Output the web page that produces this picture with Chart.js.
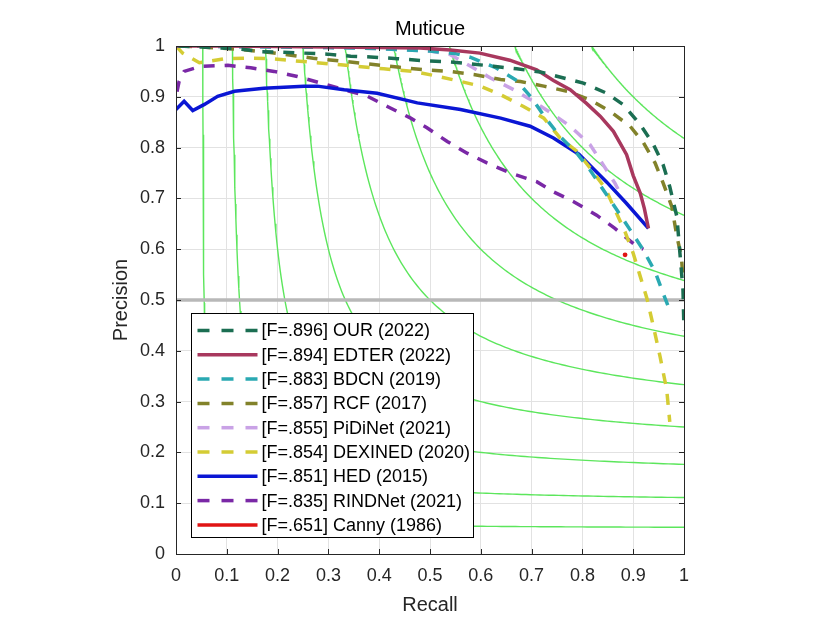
<!DOCTYPE html>
<html>
<head>
<meta charset="utf-8">
<title>Muticue</title>
<script src="https://cdn.jsdelivr.net/npm/chart.js@4.4.1/dist/chart.umd.min.js"></script>
<style>
  html, body { margin: 0; padding: 0; background: #fff; }
  canvas { display: block; }
</style>
</head>
<body>
<canvas id="chart" width="830" height="623"></canvas>
<script>
const chartTitle = "Muticue";
const tickValues = [0, 0.1, 0.2, 0.3, 0.4, 0.5, 0.6, 0.7, 0.8, 0.9, 1];
const isoFLevels = [0.1, 0.2, 0.3, 0.4, 0.5, 0.6, 0.7, 0.8, 0.9];
const referencePrecision = 0.5;

const ourRecall = [0.005, 0.05, 0.115, 0.167, 0.206, 0.252, 0.298, 0.344, 0.39, 0.436, 0.488, 0.534, 0.58, 0.625, 0.671, 0.717, 0.763, 0.802, 0.848, 0.881, 0.914, 0.94, 0.959, 0.972, 0.986, 0.993, 0.998, 1.0];
const ourPrecision = [1.0, 0.998, 0.995, 0.989, 0.988, 0.986, 0.984, 0.98, 0.978, 0.975, 0.971, 0.969, 0.965, 0.96, 0.955, 0.949, 0.937, 0.927, 0.907, 0.884, 0.845, 0.806, 0.766, 0.723, 0.664, 0.58, 0.52, 0.44];

const edterRecall = [0.0, 0.1, 0.2, 0.3, 0.4, 0.48, 0.54, 0.598, 0.657, 0.71, 0.743, 0.776, 0.808, 0.835, 0.861, 0.887, 0.9, 0.914, 0.922, 0.93];
const edterPrecision = [1.0, 1.0, 0.999, 0.998, 0.997, 0.996, 0.992, 0.986, 0.972, 0.953, 0.932, 0.914, 0.887, 0.862, 0.832, 0.786, 0.745, 0.71, 0.68, 0.641];

const bdcnRecall = [0.0, 0.1, 0.2, 0.3, 0.4, 0.5, 0.55, 0.579, 0.628, 0.671, 0.7, 0.726, 0.756, 0.789, 0.815, 0.841, 0.868, 0.894, 0.92, 0.943, 0.959, 0.968];
const bdcnPrecision = [1.0, 0.999, 0.998, 0.997, 0.995, 0.99, 0.985, 0.978, 0.958, 0.932, 0.898, 0.86, 0.822, 0.789, 0.756, 0.717, 0.677, 0.638, 0.598, 0.556, 0.513, 0.49];

const rcfRecall = [0.01, 0.05, 0.12, 0.185, 0.27, 0.356, 0.44, 0.494, 0.54, 0.586, 0.639, 0.678, 0.724, 0.77, 0.815, 0.855, 0.894, 0.92, 0.943, 0.959, 0.976, 0.986, 0.995, 0.998];
const rcfPrecision = [1.0, 0.998, 0.994, 0.987, 0.976, 0.967, 0.958, 0.953, 0.95, 0.944, 0.934, 0.93, 0.921, 0.911, 0.894, 0.871, 0.842, 0.81, 0.77, 0.73, 0.684, 0.625, 0.585, 0.54];

const pidiRecall = [0.0, 0.1, 0.2, 0.3, 0.4, 0.5, 0.54, 0.58, 0.619, 0.665, 0.7, 0.743, 0.776, 0.815, 0.841, 0.864, 0.872];
const pidiPrecision = [1.0, 0.999, 0.998, 0.997, 0.995, 0.99, 0.983, 0.96, 0.937, 0.914, 0.893, 0.865, 0.842, 0.806, 0.766, 0.73, 0.715];

const dexiRecall = [0.0, 0.013, 0.046, 0.095, 0.141, 0.187, 0.232, 0.324, 0.409, 0.468, 0.507, 0.553, 0.599, 0.639, 0.684, 0.724, 0.756, 0.789, 0.815, 0.845, 0.884, 0.9, 0.914, 0.927, 0.94, 0.953, 0.966, 0.972];
const dexiPrecision = [1.0, 0.986, 0.967, 0.975, 0.976, 0.975, 0.971, 0.963, 0.955, 0.95, 0.942, 0.932, 0.921, 0.904, 0.881, 0.858, 0.819, 0.793, 0.76, 0.72, 0.634, 0.592, 0.546, 0.503, 0.447, 0.388, 0.323, 0.26];

const hedRecall = [0.0, 0.016, 0.033, 0.056, 0.082, 0.115, 0.173, 0.252, 0.278, 0.331, 0.396, 0.475, 0.56, 0.639, 0.697, 0.743, 0.793, 0.822, 0.848, 0.887, 0.93];
const hedPrecision = [0.875, 0.891, 0.873, 0.885, 0.901, 0.911, 0.917, 0.921, 0.921, 0.914, 0.907, 0.888, 0.875, 0.858, 0.842, 0.819, 0.787, 0.758, 0.732, 0.69, 0.641];

const rindRecall = [0.002, 0.006, 0.016, 0.049, 0.102, 0.147, 0.193, 0.239, 0.285, 0.331, 0.377, 0.416, 0.462, 0.494, 0.534, 0.573, 0.612, 0.658, 0.71, 0.743, 0.782, 0.828, 0.864, 0.904, 0.92];
const rindPrecision = [0.91, 0.93, 0.95, 0.96, 0.962, 0.957, 0.95, 0.94, 0.927, 0.914, 0.901, 0.881, 0.858, 0.839, 0.812, 0.789, 0.77, 0.75, 0.733, 0.713, 0.694, 0.667, 0.641, 0.608, 0.6];

const cannyRecall = [0.884];
const cannyPrecision = [0.589];

const FONT = "'Liberation Sans', Arial, Helvetica, sans-serif";
const INK = "#262626";

const toPoints = (rs, ps) => rs.map((r, i) => ({ x: r, y: ps[i] }));

// method curves, in legend order (first one ends up on top)
const methodSets = [
  ["[F=.896] OUR (2022)", ourRecall, ourPrecision, "#1b6e52", true],
  ["[F=.894] EDTER (2022)", edterRecall, edterPrecision, "#a8385e", false],
  ["[F=.883] BDCN (2019)", bdcnRecall, bdcnPrecision, "#2aa9b2", true],
  ["[F=.857] RCF (2017)", rcfRecall, rcfPrecision, "#82822a", true],
  ["[F=.855] PiDiNet (2021)", pidiRecall, pidiPrecision, "#c9a2e6", true],
  ["[F=.854] DEXINED (2020)", dexiRecall, dexiPrecision, "#d4cc34", true],
  ["[F=.851] HED (2015)", hedRecall, hedPrecision, "#0a16d4", false],
  ["[F=.835] RINDNet (2021)", rindRecall, rindPrecision, "#7a28a6", true],
].map(([label, r, p, color, dashed]) => ({
  label,
  inLegend: true,
  dashed,
  data: toPoints(r, p),
  showLine: true,
  borderColor: color,
  backgroundColor: color,
  borderWidth: 3.5,
  borderDash: dashed ? [11, 10] : [],
  pointRadius: 0,
  order: 1,
}));

const cannySet = {
  label: "[F=.651] Canny (1986)",
  inLegend: true,
  dashed: false,
  data: toPoints(cannyRecall, cannyPrecision),
  showLine: false,
  borderColor: "#e01414",
  backgroundColor: "#e01414",
  borderWidth: 3.5,
  pointRadius: 2.4,
  pointBorderWidth: 0,
  order: 1,
};

// iso-F contours: precision = F*R / (2R - F), from P = 1 down to R = 1
const isoSets = isoFLevels.map((f) => {
  const r0 = f / (2 - f);
  const pts = [];
  for (let i = 0; i <= 160; i++) {
    const t = i / 160;
    const r = r0 + (1 - r0) * t * t;
    pts.push({ x: r, y: (f * r) / (2 * r - f) });
  }
  return {
    label: "F=" + f,
    data: pts,
    showLine: true,
    borderColor: "rgb(92,230,92)",
    borderWidth: 1.4,
    pointRadius: 0,
    order: 6,
  };
});

const refSet = {
  label: "P=0.5",
  data: [{ x: 0, y: referencePrecision }, { x: 1, y: referencePrecision }],
  showLine: true,
  borderColor: "#b8b8b8",
  borderWidth: 3.5,
  pointRadius: 0,
  order: 5,
};

const framePlugin = {
  id: "frame",
  afterDraw(chart) {
    const { ctx, chartArea: ca, scales } = chart;
    ctx.save();

    // title over the axes
    ctx.fillStyle = "#000";
    ctx.font = "20px " + FONT;
    ctx.textAlign = "center";
    ctx.textBaseline = "alphabetic";
    ctx.fillText(chartTitle, (ca.left + ca.right) / 2, 35);

    // inward tick marks on all four sides
    ctx.strokeStyle = INK;
    ctx.lineWidth = 1;
    ctx.setLineDash([]);
    ctx.beginPath();
    tickValues.forEach((v) => {
      const px = Math.round(scales.x.getPixelForValue(v)) + 0.5;
      const py = Math.round(scales.y.getPixelForValue(v)) + 0.5;
      ctx.moveTo(px, ca.bottom); ctx.lineTo(px, ca.bottom - 5);
      ctx.moveTo(px, ca.top); ctx.lineTo(px, ca.top + 5);
      ctx.moveTo(ca.left, py); ctx.lineTo(ca.left + 5, py);
      ctx.moveTo(ca.right, py); ctx.lineTo(ca.right - 5, py);
    });
    ctx.stroke();
    ctx.strokeRect(Math.round(ca.left) + 0.5, Math.round(ca.top) + 0.5,
      Math.round(ca.right - ca.left), Math.round(ca.bottom - ca.top));

    // legend box, lower left inside the axes
    const items = chart.data.datasets.filter((d) => d.inLegend);
    const bx = Math.round(ca.left + 15) + 0.5;
    const by = Math.round(ca.top + 267) + 0.5;
    const bw = 282, bh = 224;
    ctx.fillStyle = "#fff";
    ctx.fillRect(bx, by, bw, bh);
    ctx.strokeStyle = "#000";
    ctx.lineWidth = 1;
    ctx.strokeRect(bx, by, bw, bh);
    ctx.font = "18px " + FONT;
    ctx.textAlign = "left";
    ctx.textBaseline = "middle";
    items.forEach((d, i) => {
      const y = by + 17 + i * 24.3;
      ctx.strokeStyle = d.borderColor;
      ctx.lineWidth = 3.5;
      ctx.setLineDash(d.dashed ? [12, 12] : []);
      ctx.beginPath();
      ctx.moveTo(bx + 6, y);
      ctx.lineTo(bx + 66, y);
      ctx.stroke();
      ctx.setLineDash([]);
      ctx.fillStyle = "#000";
      ctx.fillText(d.label, bx + 70, y + 1);
    });
    ctx.restore();
  },
};

const fixedTicks = (scale) => {
  scale.ticks = tickValues.map((v) => ({ value: v }));
};

Chart.defaults.font.family = FONT;

new Chart(document.getElementById("chart"), {
  type: "scatter",
  data: {
    datasets: [...methodSets, cannySet, refSet, ...isoSets],
  },
  options: {
    responsive: false,
    animation: false,
    events: [],
    layout: {
      padding: { left: 100, top: 46, right: 146, bottom: 0 },
    },
    plugins: {
      legend: { display: false },
      tooltip: { enabled: false },
      title: { display: false },
    },
    scales: {
      x: {
        type: "linear",
        min: 0,
        max: 1,
        afterBuildTicks: fixedTicks,
        afterFit: (s) => { s.height = 69; },
        border: { display: false },
        grid: { color: "#e2e2e2", lineWidth: 1, drawTicks: false },
        ticks: {
          padding: 11,
          color: INK,
          font: { size: 18 },
          autoSkip: false,
          maxRotation: 0,
          callback: (v) => String(v),
        },
        title: {
          display: true,
          text: "Recall",
          color: INK,
          font: { size: 20 },
          padding: { top: 0, bottom: 6 },
        },
      },
      y: {
        type: "linear",
        min: 0,
        max: 1,
        afterBuildTicks: fixedTicks,
        afterFit: (s) => { s.width = 76; },
        border: { display: false },
        grid: { color: "#e2e2e2", lineWidth: 1, drawTicks: false },
        ticks: {
          padding: 11,
          color: INK,
          font: { size: 18 },
          autoSkip: false,
          callback: (v) => String(v),
        },
        title: {
          display: true,
          text: "Precision",
          color: INK,
          font: { size: 20 },
          padding: { top: 9, bottom: 0 },
        },
      },
    },
  },
  plugins: [framePlugin],
});
</script>
</body>
</html>
